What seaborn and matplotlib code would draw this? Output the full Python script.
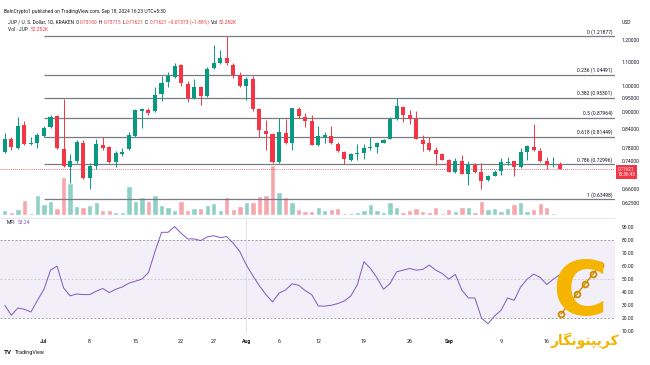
import numpy as np
import pandas as pd
import matplotlib
matplotlib.use("Agg")
import matplotlib.pyplot as plt
import seaborn as sns
from matplotlib.lines import Line2D

# ---------------- data ----------------
dates = pd.date_range("2024-06-25", "2024-09-18", freq="D")

opens = [0.766, 0.807, 0.780, 0.853, 0.792, 0.796, 0.817, 0.846, 0.886, 0.777,
         0.723, 0.741, 0.796, 0.691, 0.725, 0.789, 0.781, 0.736, 0.761, 0.775,
         0.817, 0.905, 0.907, 0.902, 0.966, 1.015, 1.034, 1.085, 1.005, 0.953,
         0.993, 0.959, 1.074, 1.096, 1.117, 1.087, 1.045, 1.000, 1.026, 0.909,
         0.834, 0.824, 0.736, 0.828, 0.794, 0.912, 0.883, 0.869, 0.789, 0.815,
         0.817, 0.792, 0.768, 0.743, 0.761, 0.763, 0.778, 0.781, 0.796, 0.808,
         0.876, 0.919, 0.889, 0.874, 0.804, 0.794, 0.773, 0.760, 0.743, 0.707,
         0.741, 0.702, 0.729, 0.709, 0.685, 0.697, 0.711, 0.735, 0.739, 0.721,
         0.768, 0.783, 0.771, 0.739, 0.728, 0.73100]
highs = [0.826, 0.814, 0.883, 0.868, 0.815, 0.826, 0.850, 0.889, 0.889, 0.947,
         0.761, 0.803, 0.803, 0.734, 0.807, 0.815, 0.786, 0.770, 0.778, 0.832,
         0.912, 0.912, 0.914, 0.993, 1.039, 1.054, 1.095, 1.088, 1.020, 1.028,
         0.997, 1.075, 1.176, 1.153, 1.21877, 1.094, 1.054, 1.033, 1.039, 0.913,
         0.871, 0.828, 0.878, 0.876, 0.913, 0.917, 0.897, 0.889, 0.851, 0.830,
         0.851, 0.798, 0.771, 0.765, 0.791, 0.793, 0.814, 0.799, 0.808, 0.883,
         0.950, 0.922, 0.907, 0.905, 0.822, 0.815, 0.783, 0.764, 0.745, 0.747,
         0.758, 0.741, 0.733, 0.733, 0.699, 0.714, 0.748, 0.751, 0.741, 0.778,
         0.790, 0.858, 0.778, 0.750, 0.750, 0.73715]
lows = [0.763, 0.773, 0.776, 0.789, 0.789, 0.778, 0.814, 0.843, 0.776, 0.721,
        0.676, 0.735, 0.688, 0.661, 0.717, 0.773, 0.734, 0.723, 0.756, 0.772,
        0.814, 0.843, 0.890, 0.899, 0.940, 0.993, 1.030, 0.998, 0.938, 0.947,
        0.925, 0.955, 1.068, 1.092, 1.087, 1.032, 0.996, 0.944, 0.904, 0.814,
        0.773, 0.733, 0.733, 0.792, 0.774, 0.880, 0.848, 0.788, 0.786, 0.794,
        0.792, 0.768, 0.730, 0.740, 0.743, 0.745, 0.773, 0.765, 0.794, 0.806,
        0.873, 0.864, 0.859, 0.806, 0.771, 0.771, 0.727, 0.742, 0.708, 0.705,
        0.701, 0.672, 0.706, 0.661, 0.684, 0.696, 0.699, 0.727, 0.696, 0.720,
        0.743, 0.770, 0.737, 0.717, 0.722, 0.71621]
closes = [0.807, 0.783, 0.852, 0.791, 0.795, 0.820, 0.845, 0.883, 0.778, 0.726,
          0.739, 0.798, 0.690, 0.726, 0.791, 0.780, 0.736, 0.763, 0.767, 0.820,
          0.907, 0.909, 0.895, 0.962, 1.012, 1.039, 1.081, 1.009, 0.953, 0.993,
          0.958, 1.070, 1.096, 1.117, 1.093, 1.045, 1.000, 1.028, 0.911, 0.837,
          0.823, 0.736, 0.829, 0.794, 0.913, 0.887, 0.869, 0.789, 0.817, 0.820,
          0.794, 0.770, 0.746, 0.760, 0.764, 0.778, 0.783, 0.796, 0.804, 0.876,
          0.922, 0.889, 0.876, 0.808, 0.792, 0.773, 0.761, 0.743, 0.709, 0.741,
          0.702, 0.729, 0.709, 0.684, 0.697, 0.709, 0.736, 0.738, 0.721, 0.767,
          0.785, 0.773, 0.739, 0.728, 0.731, 0.71621]
volumes_k = [375, 250, 450, 1100, 150, 1480, 800, 1030, 525, 2850,
             2380, 675, 580, 750, 950, 350, 350, 250, 250, 2175,
             1030, 1350, 1030, 1480, 750, 580, 400, 1050, 375, 525,
             525, 770, 880, 375, 1370, 450, 700, 975, 950, 1425,
             1520, 3750, 1725, 1330, 1000, 450, 300, 300, 580, 350,
             430, 525, 170, 150, 200, 375, 850, 350, 225, 975,
             600, 250, 375, 525, 320, 250, 620, 150, 450, 320,
             600, 600, 250, 1070, 430, 525, 280, 525, 800, 975,
             320, 450, 920, 620, 170, 52.282]
mfi = [29.8, 22.1, 27.7, 26.7, 24.6, 33.6, 42.1, 56.8, 59.9, 43.2,
       37.0, 38.5, 38.0, 38.0, 40.6, 42.7, 39.6, 42.1, 43.9, 46.8,
       48.3, 49.9, 55.0, 71.0, 85.9, 85.9, 90.3, 85.2, 80.8, 80.8,
       79.5, 82.3, 83.3, 81.8, 82.6, 77.4, 71.0, 60.7, 52.4, 44.7,
       38.0, 32.4, 39.1, 41.6, 46.3, 45.2, 41.1, 38.0, 29.3, 29.1,
       29.8, 31.1, 33.1, 37.0, 45.7, 63.3, 58.1, 50.9, 42.1, 46.5,
       55.5, 56.8, 58.1, 56.8, 57.3, 60.7, 56.8, 54.2, 49.9, 53.5,
       41.4, 35.4, 35.4, 20.0, 15.6, 21.5, 25.9, 35.4, 33.6, 43.9,
       49.9, 53.7, 51.2, 45.7, 49.9, 53.24]

fib_levels = ["0", "0.236", "0.382", "0.5", "0.618", "0.786", "1"]
fib_prices = [1.21877, 1.04491, 0.95301, 0.87964, 0.81449, 0.72996, 0.63498]
price_ticks = [1.20, 1.10, 1.00, 0.95, 0.90, 0.84, 0.78, 0.74, 0.66, 0.625]
mfi_ticks = [90, 80, 70, 60, 50, 40, 30, 20, 10]
date_tick_labels = ["Jul", "8", "15", "22", "27", "Aug", "6", "12", "19", "26", "Sep", "9", "16"]
date_tick_dates = ["2024-07-01", "2024-07-08", "2024-07-15", "2024-07-22", "2024-07-27",
                   "2024-08-01", "2024-08-06", "2024-08-12", "2024-08-19", "2024-08-26",
                   "2024-09-01", "2024-09-09", "2024-09-16"]
last_price = 0.71621

# ---------------- style ----------------
sns.set_theme(style="white")
plt.rcParams['font.family'] = ['Roboto', 'DejaVu Sans']

UP, DOWN = "#089981", "#f23645"
UP_V, DOWN_V = "#8fd1c6", "#f7a6ac"
TXT = "#131722"
GRAY = "#787b86"

W, H = 650, 365
fig = plt.figure(figsize=(6.5, 3.65), dpi=100)
fig.patch.set_facecolor("white")

def fx(px):
    return px / W

def fy(py):
    return 1 - py / H

df = pd.DataFrame({"date": dates, "open": opens, "high": highs, "low": lows,
                   "close": closes, "volume": volumes_k, "mfi": mfi})
df["i"] = np.arange(len(df))
df["dir"] = np.where(df["close"] >= df["open"], "up", "down")

X0 = -0.735
X1 = 93.45
main_rect = [0, fy(215), fx(615), fy(33) - fy(215)]

# volume axis (behind)
axv = fig.add_axes(main_rect)
sns.barplot(data=df, x="i", y="volume", hue="dir", palette={"up": UP_V, "down": DOWN_V},
            native_scale=True, dodge=False, width=0.82, errorbar=None, legend=False,
            saturation=1, ax=axv)
axv.set_xlim(X0, X1)
axv.set_ylim(0, 13650)
axv.axis("off")

# price axis
ax = fig.add_axes(main_rect, sharex=axv)
ax.set_facecolor("none")
ax.set_yscale("log")
cols = [UP if d == "up" else DOWN for d in df["dir"]]
ax.vlines(df["i"], df["low"], df["high"], colors=cols, lw=0.7, zorder=3)
body_lo = np.minimum(df["open"], df["close"])
body_hi = np.maximum(df["open"], df["close"])
body_h = np.maximum(body_hi - body_lo, body_lo * 0.004)
ax.bar(df["i"], body_h, bottom=body_lo, width=0.62, color=cols, lw=0, zorder=4)

ax.set_ylim(0.5959, 1.234)
ax.set_xlim(X0, X1)
for s in ax.spines.values():
    s.set_visible(False)
ax.yaxis.tick_right()
ax.set_yticks(price_ticks, [f"{p:.5f}" for p in price_ticks])
ax.yaxis.set_minor_locator(matplotlib.ticker.NullLocator())
ax.tick_params(axis="y", length=0, pad=5, labelsize=3.6, labelcolor=TXT)
ax.tick_params(axis="x", bottom=False, labelbottom=False)
ax.grid(False)

jul1 = int(df.index[df["date"] == pd.Timestamp("2024-07-01")][0])
ax.hlines(fib_prices, jul1, X1, color=GRAY, lw=0.9, zorder=2)
for lv, p in zip(fib_levels, fib_prices):
    ax.text(93.0, p * 1.006, f"{lv} ({p:.5f})", ha="right", va="bottom",
            fontsize=3.6, color=TXT, zorder=5)
ax.axhline(last_price, color=DOWN, ls=(0, (1, 1.5)), lw=0.6, zorder=2)

# MFI axis
axm = fig.add_axes([0, fy(334), fx(615), fy(218) - fy(334)])
axm.axhspan(20, 80, color="#7e57c2", alpha=0.09, lw=0)
axm.axhline(80, color="#9598a1", ls=(0, (2.5, 2)), lw=0.6)
axm.axhline(20, color="#9598a1", ls=(0, (2.5, 2)), lw=0.6)
axm.axhline(50, color="#9598a1", ls=(0, (2.5, 2)), lw=0.6, alpha=0.45)
aug1 = int(df.index[df["date"] == pd.Timestamp("2024-08-01")][0])
axm.axvline(aug1, color="#dcdfe8", lw=0.6)
sns.lineplot(data=df, x="i", y="mfi", ax=axm, color="#7e57c2", lw=0.7)
axm.set_xlim(X0, X1)
axm.set_ylim(7.7, 96.9)
for s in axm.spines.values():
    s.set_visible(False)
axm.set_xlabel("")
axm.set_ylabel("")
axm.yaxis.tick_right()
axm.set_yticks(mfi_ticks, [f"{v:.2f}" for v in mfi_ticks])
axm.tick_params(axis="y", length=0, pad=5, labelsize=3.6, labelcolor=TXT)
tick_pos = [int(df.index[df["date"] == pd.Timestamp(d)][0]) for d in date_tick_dates]
axm.set_xticks(tick_pos, date_tick_labels)
axm.tick_params(axis="x", length=0, pad=3.5, labelsize=3.8, labelcolor=TXT)
for lbl in axm.get_xticklabels():
    if lbl.get_text() in ("Jul", "Aug", "Sep"):
        lbl.set_fontweight("bold")
axm.grid(False)

# pane separator
fig.add_artist(Line2D([0, fx(615)], [fy(217.5), fy(217.5)], color="#e0e3eb", lw=0.6))

# ---------------- header texts ----------------
renderer = fig.canvas.get_renderer()

def seq_text(x_px, y_px, parts, size, gap=1.2):
    x = x_px
    for s, c in parts:
        t = fig.text(fx(x), fy(y_px), s, color=c, fontsize=size, ha="left", va="center")
        bb = t.get_window_extent(renderer)
        x += bb.width + gap

fig.text(fx(4), fy(11), "BeInCrypto1 published on TradingView.com, Sep 18, 2024 16:23 UTC+5:30",
         fontsize=3.5, color=TXT, ha="left", va="center")
seq_text(8, 22.3, [("JUP / U. S. Dollar, 1D, KRAKEN", TXT), ("O", TXT), ("0.73100", DOWN),
                   ("H", TXT), ("0.73715", DOWN), ("L", TXT), ("0.71621", DOWN),
                   ("C", TXT), ("0.71621", DOWN), ("\u22120.01373 (\u22121.88%)", DOWN),
                   ("Vol", TXT), ("52.282K", DOWN)], 3.5)
seq_text(8, 29.5, [("Vol \u00b7 JUP", TXT), ("52.282K", DOWN)], 3.5, gap=3)
fig.text(fx(622), fy(23), "USD", fontsize=3.6, color=TXT, ha="left", va="center")
seq_text(7, 222.5, [("MFI", TXT), ("53.24", "#7e57c2")], 3.6, gap=2)

# last price tag
fig.text(fx(626.5), fy(172), "0.71621\n15:36:43", fontsize=3.3, color="white",
         ha="center", va="center", linespacing=1.15,
         bbox=dict(boxstyle="square,pad=0.35", fc=DOWN, ec="none"))

# TradingView logo
fig.text(fx(4), fy(352.5), "TV", fontsize=4.5, fontweight="bold", color=TXT,
         ha="left", va="center")
fig.text(fx(14.5), fy(352.5), "TradingView", fontsize=3.9, color=TXT, ha="left", va="center")

# watermark logo
GOLD = "#f4b400"
fig.text(fx(580), fy(294), "C", fontsize=54, fontweight="bold", color=GOLD,
         ha="center", va="center", family="DejaVu Sans")
chain_x = [fx(v) for v in (561, 569, 577, 585, 593, 600)]
chain_y = [fy(v) for v in (314, 304, 294, 284, 274, 265)]
fig.add_artist(Line2D(chain_x, chain_y, lw=1.0, color="#d08a00", marker="o", ms=4.2,
                      mfc="none", mec="#d08a00", mew=1.3))
fig.text(fx(585), fy(341), "\uFEAD\uFE8E\uFB95\uFEE7\uFEEE\uFE98\uFB59\uFBFE\uFEAE\uFB90",
         fontsize=10, fontweight="bold", color=GOLD, ha="center", va="center",
         family="DejaVu Sans")

fig.savefig("out.png", dpi=100, facecolor="white")
